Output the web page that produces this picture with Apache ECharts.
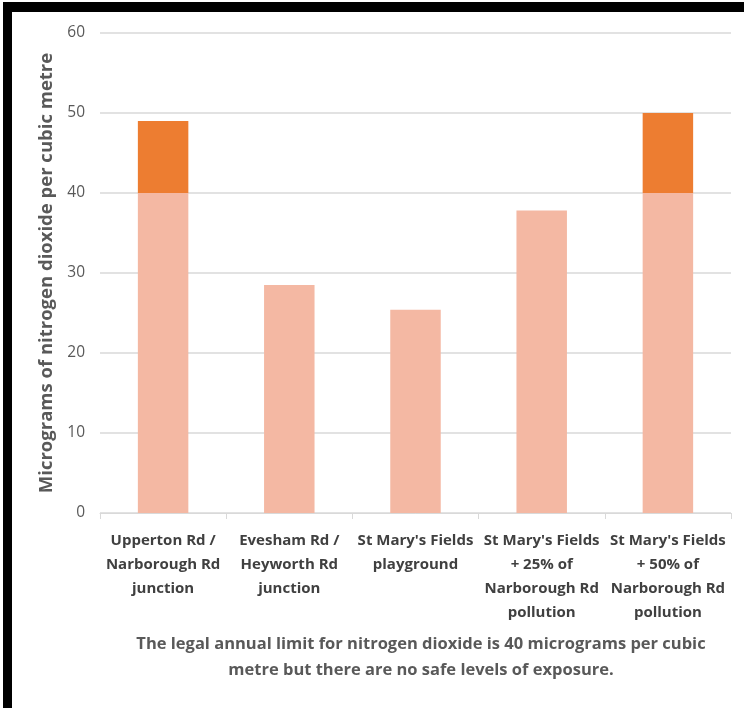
<!DOCTYPE html>
<html><head><meta charset="utf-8">
<script src="https://cdn.jsdelivr.net/npm/echarts@6/dist/echarts.min.js"></script>
<style>html,body{margin:0;padding:0;background:#fff;}#c{width:744px;height:708px;}</style>
</head><body><div id="c"></div>
<script>
const categories = [
  "Upperton Rd /\nNarborough Rd\njunction",
  "Evesham Rd /\nHeyworth Rd\njunction",
  "St Mary's Fields\nplayground",
  "St Mary's Fields\n+ 25% of\nNarborough Rd\npollution",
  "St Mary's Fields\n+ 50% of\nNarborough Rd\npollution"
];
const totals = [49, 28.5, 25.4, 37.8, 50];
const legalLimit = 40;
const yTicks = [0, 10, 20, 30, 40, 50, 60];
const belowLimit = totals.map(v => Math.min(v, legalLimit));
const aboveLimit = totals.map(v => v > legalLimit ? +(v - legalLimit).toFixed(2) : 0);
const footnote = "The legal annual limit for nitrogen dioxide is 40 micrograms per cubic\nmetre but there are no safe levels of exposure.";

const chart = echarts.init(document.getElementById('c'));
chart.setOption({
  animation: false,
  grid: { left: 100, right: 13, top: 33, bottom: 195 },
  graphic: [
    { type: 'rect', shape: { x: 3, y: 2, width: 741, height: 10 }, style: { fill: '#000' } },
    { type: 'rect', shape: { x: 3, y: 2, width: 9, height: 706 }, style: { fill: '#000' } },
    { type: 'text', x: 421, y: 631,
      style: { text: footnote, fill: '#595959', font: 'bold 16.5px "Open Sans"', textAlign: 'center', lineHeight: 26 } }
  ],
  xAxis: {
    type: 'category', data: categories,
    axisLine: { lineStyle: { color: '#d9d9d9' } },
    axisTick: { show: true, alignWithLabel: false, length: 6, lineStyle: { color: '#d9d9d9' } },
    axisLabel: { color: '#404040', fontFamily: 'Open Sans', fontWeight: 'bold', fontSize: 15, lineHeight: 24, margin: 16, interval: 0 }
  },
  yAxis: {
    type: 'value', min: 0, max: 60, interval: 10,
    name: 'Micrograms of nitrogen dioxide per cubic metre',
    nameLocation: 'middle', nameGap: 44,
    nameTextStyle: { color: '#595959', fontFamily: 'Open Sans', fontWeight: 'bold', fontSize: 18.5 },
    axisLine: { show: false }, axisTick: { show: false },
    axisLabel: { color: '#595959', fontFamily: 'Open Sans', fontSize: 15.5, margin: 15 },
    splitLine: { lineStyle: { color: '#d9d9d9', width: 1.5 } }
  },
  series: [
    { type: 'bar', stack: 'a', data: belowLimit, barWidth: '40%', itemStyle: { color: '#F4B8A3' } },
    { type: 'bar', stack: 'a', data: aboveLimit, barWidth: '40%', itemStyle: { color: '#ED7D31' } }
  ]
});
</script></body></html>
